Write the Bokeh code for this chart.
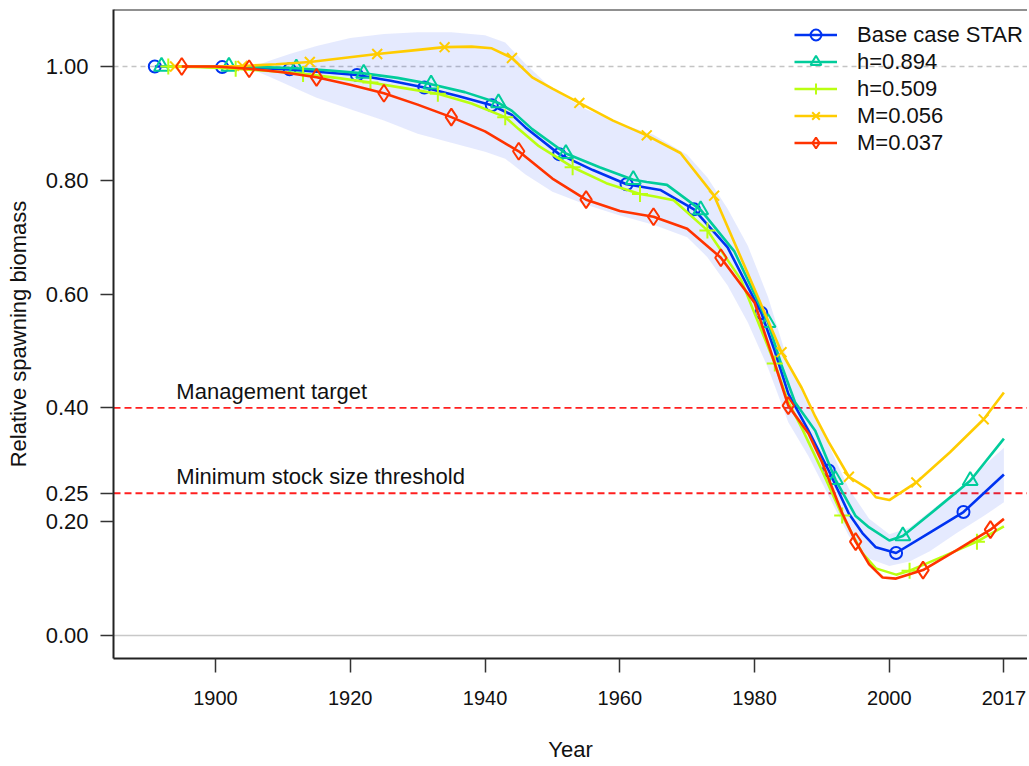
from bokeh.plotting import figure
from bokeh.models import (Range1d, FixedTicker, Span, Label, Legend, LegendItem,
                          NumeralTickFormatter)
from bokeh.embed import file_html
from bokeh.resources import INLINE

# ---------------- data ----------------
base_years = [1891, 1896, 1901, 1906, 1911, 1916, 1921, 1926, 1931, 1936, 1941, 1944, 1946,
              1951, 1956, 1961, 1963, 1966, 1971, 1976, 1981, 1983, 1985, 1988, 1991, 1994,
              1996, 1998, 2001, 2006, 2011, 2017]
base_vals = [1.000, 1.000, 0.999, 0.997, 0.995, 0.990, 0.985, 0.975, 0.963, 0.948, 0.932,
             0.915, 0.893, 0.846, 0.818, 0.793, 0.789, 0.783, 0.749, 0.682, 0.567, 0.500,
             0.425, 0.360, 0.290, 0.214, 0.180, 0.155, 0.145, 0.181, 0.217, 0.283]

h894_years = [1892, 1897, 1902, 1907, 1912, 1917, 1922, 1927, 1932, 1937, 1942, 1944, 1947,
              1952, 1957, 1962, 1964, 1967, 1972, 1977, 1982, 1984, 1986, 1989, 1992, 1995,
              1997, 2000, 2002, 2007, 2012, 2017]
h894_vals = [1.000, 1.000, 1.000, 0.999, 0.997, 0.993, 0.988, 0.980, 0.969, 0.955, 0.936,
             0.922, 0.890, 0.847, 0.823, 0.801, 0.797, 0.792, 0.748, 0.675, 0.550, 0.475,
             0.410, 0.360, 0.274, 0.210, 0.190, 0.167, 0.175, 0.223, 0.272, 0.346]

h509_years = [1893, 1898, 1903, 1908, 1913, 1918, 1923, 1928, 1933, 1938, 1943, 1945, 1948,
              1953, 1958, 1963, 1965, 1968, 1973, 1978, 1983, 1985, 1987, 1990, 1993, 1996,
              1998, 2001, 2003, 2008, 2013, 2017]
h509_vals = [1.000, 0.999, 0.996, 0.992, 0.987, 0.980, 0.972, 0.962, 0.952, 0.935, 0.911,
             0.890, 0.860, 0.823, 0.795, 0.776, 0.772, 0.765, 0.712, 0.625, 0.478, 0.410,
             0.365, 0.290, 0.211, 0.145, 0.118, 0.107, 0.114, 0.139, 0.165, 0.192]

m056_years = [1894, 1899, 1904, 1909, 1914, 1919, 1924, 1929, 1934, 1938, 1941, 1944, 1947,
              1950, 1954, 1959, 1964, 1969, 1974, 1979, 1984, 1987, 1989, 1991, 1994, 1997,
              1998, 2000, 2004, 2009, 2014, 2017]
m056_vals = [1.000, 1.000, 1.001, 1.004, 1.008, 1.015, 1.022, 1.028, 1.034, 1.035, 1.032,
             1.015, 0.981, 0.961, 0.936, 0.905, 0.879, 0.848, 0.773, 0.636, 0.498, 0.435,
             0.385, 0.340, 0.279, 0.257, 0.243, 0.238, 0.269, 0.322, 0.380, 0.427]

m037_years = [1895, 1900, 1905, 1910, 1915, 1920, 1925, 1930, 1935, 1940, 1945, 1950, 1955,
              1960, 1965, 1970, 1975, 1980, 1983, 1985, 1988, 1990, 1993, 1995, 1997, 1999,
              2001, 2005, 2010, 2015, 2017]
m037_vals = [1.000, 1.000, 0.996, 0.990, 0.981, 0.968, 0.953, 0.933, 0.911, 0.886, 0.851,
             0.803, 0.766, 0.746, 0.736, 0.715, 0.664, 0.585, 0.478, 0.404, 0.355, 0.305,
             0.215, 0.165, 0.125, 0.102, 0.100, 0.115, 0.150, 0.186, 0.205]

band_years = [1905, 1908, 1911, 1915, 1920, 1925, 1930, 1935, 1940, 1943, 1946, 1950, 1955,
              1960, 1965, 1970, 1973, 1976, 1979, 1982, 1985, 1988, 1991, 1994, 1997, 2000,
              2003, 2006, 2010, 2014, 2017]
band_upper = [0.997, 1.010, 1.022, 1.036, 1.050, 1.057, 1.060, 1.060, 1.055, 1.042, 1.005,
              0.960, 0.925, 0.900, 0.880, 0.845, 0.805, 0.750, 0.685, 0.595, 0.480, 0.405,
              0.335, 0.258, 0.205, 0.178, 0.190, 0.218, 0.255, 0.298, 0.330]
band_lower = [0.997, 0.982, 0.966, 0.945, 0.925, 0.905, 0.882, 0.866, 0.850, 0.838, 0.810,
              0.780, 0.757, 0.738, 0.722, 0.700, 0.665, 0.615, 0.550, 0.470, 0.375, 0.315,
              0.245, 0.175, 0.135, 0.122, 0.130, 0.148, 0.180, 0.210, 0.234]

series_labels = ["Base case STAR", "h=0.894", "h=0.509", "M=0.056", "M=0.037"]
x_ticks = [1900, 1920, 1940, 1960, 1980, 2000, 2017]
y_ticks = [0.0, 0.20, 0.25, 0.40, 0.60, 0.80, 1.00]
target_level = 0.40
threshold_level = 0.25

# ---------------- styling ----------------
FONT = "Liberation Sans"
colors = ["#0033F1", "#01CC9B", "#BAFF11", "#FFCC00", "#FF3300"]
markers = ["circle", "triangle", "cross", "x", "diamond"]
msizes = [12, 15, 16, 14, 17]

p = figure(frame_width=914, frame_height=649,
           x_range=Range1d(1884.87, 2020.5), y_range=Range1d(-0.0404, 1.1002),
           output_backend="svg", toolbar_location=None,
           min_border_left=113, min_border_top=9, min_border_right=0, min_border_bottom=104)
p.outline_line_color = None
p.grid.visible = False
p.background_fill_color = "white"

# reference lines
p.add_layout(Span(location=1.0, dimension="width", line_color="#c4c4c4", line_width=1.5,
                  line_dash="5 4", level="underlay"))
p.add_layout(Span(location=0.0, dimension="width", line_color="#c8c8c8", line_width=1.5,
                  level="underlay"))
p.add_layout(Span(location=target_level, dimension="width", line_color="#ff2020",
                  line_width=1.8, line_dash="7 4", level="underlay"))
p.add_layout(Span(location=threshold_level, dimension="width", line_color="#ff2020",
                  line_width=1.8, line_dash="7 4", level="underlay"))
# top border of box
p.add_layout(Span(location=p.y_range.end, dimension="width", line_color="#222222",
                  line_width=2))

# uncertainty band
p.varea(x=band_years, y1=band_lower, y2=band_upper, fill_color="#0033F1", fill_alpha=0.1)

all_years = [base_years, h894_years, h509_years, m056_years, m037_years]
all_vals = [base_vals, h894_vals, h509_vals, m056_vals, m037_vals]

items = []
for yrs, vals, col, mk, ms, lab in zip(all_years, all_vals, colors, markers, msizes, series_labels):
    lr = p.line(yrs, vals, line_color=col, line_width=2.6)
    start = yrs[0]
    mx = [y for y in yrs if (y - start) % 10 == 0]
    my = [v for y, v in zip(yrs, vals) if (y - start) % 10 == 0]
    mr = p.scatter(mx, my, marker=mk, size=ms, line_color=col, line_width=2,
                   fill_alpha=0)
    items.append(LegendItem(label=lab, renderers=[lr, mr]))

legend = Legend(items=items, location=(681, 502), margin=0, padding=0, spacing=0,
                glyph_width=43, glyph_height=27, label_height=27, label_standoff=20,
                label_text_font=FONT, label_text_font_size="22px", label_text_color="#111111",
                background_fill_alpha=0, border_line_alpha=0)
p.add_layout(legend)

# annotations
p.add_layout(Label(x=1894.2, y=target_level, y_offset=4, text="Management target",
                   text_font=FONT, text_font_size="22px", text_color="#111111",
                   text_baseline="bottom"))
p.add_layout(Label(x=1894.2, y=threshold_level, y_offset=4, text="Minimum stock size threshold",
                   text_font=FONT, text_font_size="22px", text_color="#111111",
                   text_baseline="bottom"))

# axes
xa = p.xaxis[0]
xa.ticker = FixedTicker(ticks=x_ticks)
xa.axis_label = "Year"
ya = p.yaxis[0]
ya.ticker = FixedTicker(ticks=y_ticks)
ya.formatter = NumeralTickFormatter(format="0.00")
ya.axis_label = "Relative spawning biomass"

for ax in (xa, ya):
    ax.axis_line_color = "#222222"
    ax.axis_line_width = 2
    ax.major_tick_line_color = "#333333"
    ax.major_tick_line_width = 1.5
    ax.major_tick_in = 0
    ax.minor_tick_line_color = None
    ax.major_label_text_font = FONT
    ax.major_label_text_font_size = "22px"
    ax.major_label_text_color = "#111111"
    ax.axis_label_text_font = FONT
    ax.axis_label_text_font_size = "22px"
    ax.axis_label_text_font_style = "normal"
    ax.axis_label_text_color = "#111111"

xa.major_label_text_font_size = "20px"
xa.major_tick_out = 14
xa.major_label_standoff = 18
xa.axis_label_standoff = 29
ya.major_tick_out = 13
ya.major_label_standoff = 12
ya.axis_label_standoff = 12

open("out.html", "w").write(file_html(p, INLINE))
